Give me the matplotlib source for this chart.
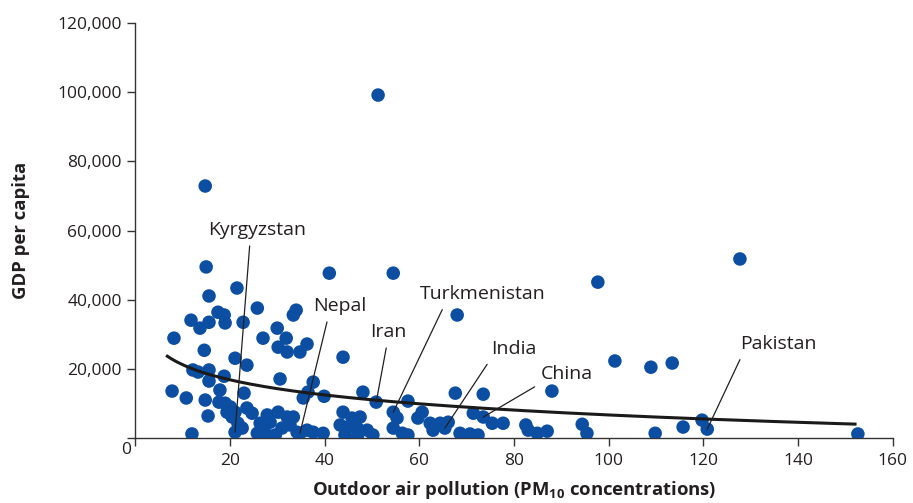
import numpy as np
import matplotlib
matplotlib.use('Agg')
import matplotlib.pyplot as plt
from matplotlib.ticker import FuncFormatter

plt.rcParams['font.family'] = ['Open Sans', 'DejaVu Sans']
plt.rcParams['mathtext.fontset'] = 'custom'
plt.rcParams['mathtext.rm'] = 'Open Sans'
plt.rcParams['mathtext.bf'] = 'Open Sans:bold'

# PM10 concentration vs GDP per capita, one point per country
pm10 = [51.3, 14.8, 127.7, 15.0, 41.0, 54.5, 97.7, 21.5, 15.6, 25.8,
        34.0, 33.4, 68.0, 17.5, 18.8, 19.0, 11.8, 15.6, 13.7, 22.8,
        30.0, 8.2, 27.0, 31.9, 30.2, 32.1, 36.3, 34.8, 14.6, 43.9,
        21.1, 23.6, 12.2, 13.3, 15.6, 18.8, 15.6, 30.6, 7.8, 17.9,
        23.0, 37.6, 36.5, 10.8, 14.8, 17.7, 19.0, 35.5, 39.9, 15.4,
        20.1, 23.6, 19.4, 21.1, 20.5, 24.7, 27.9, 30.2, 32.1, 33.4,
        21.7, 22.6, 26.4, 28.5, 31.0, 32.7, 27.0, 21.1, 12.0, 25.8,
        27.9, 29.6, 34.2, 36.3, 37.6, 39.7, 34.8, 43.9, 45.8, 47.5,
        43.3, 45.0, 46.9, 44.3, 49.0, 50.2, 46.9, 48.1, 50.9, 54.5,
        55.3, 54.5, 56.4, 57.6, 57.6, 60.6, 59.7, 62.3, 62.9, 64.4,
        66.1, 65.4, 67.6, 68.6, 70.7, 72.4, 73.5, 71.4, 73.5, 75.4,
        77.7, 82.5, 83.0, 84.9, 87.0, 88.0, 94.4, 95.4, 101.3, 108.9,
        113.4, 109.8, 115.7, 119.7, 120.8, 152.6]
gdp = [99200, 72900, 51800, 49500, 47700, 47700, 45100, 43400, 41100, 37600,
       37000, 35600, 35600, 36400, 35600, 33300, 34100, 33500, 31800, 33500,
       31800, 28900, 28900, 28900, 26300, 24900, 27200, 24900, 25400, 23400,
       23100, 21100, 19700, 19100, 19700, 17900, 16500, 17100, 13600, 13900,
       13000, 16200, 13300, 11600, 11000, 10400, 10100, 11600, 12100, 6400,
       9000, 8700, 7500, 7500, 6100, 7200, 6700, 7500, 6100, 6100,
       4300, 2900, 4300, 4600, 2900, 3800, 2900, 1700, 1200, 1400,
       900, 900, 1700, 2300, 1700, 1400, 1400, 7500, 5800, 6100,
       3800, 3200, 2900, 900, 2300, 900, 500, 13300, 10400, 7500,
       5800, 2900, 1400, 900, 10700, 7500, 5800, 4300, 2300, 4300,
       4600, 2900, 13000, 1400, 1200, 900, 12700, 7200, 6100, 4300,
       4300, 3800, 2300, 1400, 2000, 13600, 4000, 1400, 22300, 20500,
       21700, 1400, 3200, 5200, 2600, 1200]

# logarithmic trendline (y = a + b ln x) as drawn in the source chart
trend_a = 35800
trend_b = -6320
trend_range = [6.8, 152.0]

countries = ['Kyrgyzstan', 'Nepal', 'Iran', 'Turkmenistan', 'India', 'China', 'Pakistan']
country_pm10 = [21.1, 34.8, 50.9, 54.5, 65.4, 73.5, 120.8]
country_gdp = [1700, 1400, 10400, 7500, 2900, 6100, 2600]

# where the labels sit and where their leader lines leave the text
label_pos = [(15.4, 60150), (37.6, 38170), (49.6, 30650), (60.2, 41650),
             (75.2, 25740), (85.7, 18510), (127.7, 27180)]
line_rel = [0.43, 0.29, 0.48, 0.2, 0.0, 0.0, 0.04]

txt = '#231f20'
fig, ax = plt.subplots(figsize=(9.13, 5.03), dpi=100)
fig.subplots_adjust(left=0.148, right=0.978, bottom=0.129, top=0.954)

ax.scatter(pm10, gdp, s=95, color='#0b4ea2', edgecolors='none', zorder=3)

xs = np.linspace(trend_range[0], trend_range[1], 200)
ax.plot(xs, trend_a + trend_b * np.log(xs), color='#1a1a1a', lw=2.2, zorder=4)

for name, px, py, pos, rel in zip(countries, country_pm10, country_gdp, label_pos, line_rel):
    ax.annotate(name, xy=(px, py), xytext=pos, ha='left', va='center',
                fontsize=14, color=txt, zorder=5,
                arrowprops=dict(arrowstyle='-', color=txt, lw=0.9,
                                relpos=(rel, 0), shrinkA=3, shrinkB=0))

ax.set_xlim(0, 160)
ax.set_ylim(0, 120000)
ax.set_xticks(range(0, 161, 20))
ax.set_yticks(range(0, 120001, 20000))
ax.xaxis.set_major_formatter(FuncFormatter(lambda v, p: '' if v == 0 else f'{int(v)}'))
ax.yaxis.set_major_formatter(FuncFormatter(lambda v, p: '' if v == 0 else f'{int(v):,}'))
ax.annotate('0', xy=(0, 0), xytext=(-3, -3), textcoords='offset points',
            ha='right', va='top', fontsize=12.5, color=txt)

for s in ['top', 'right']:
    ax.spines[s].set_visible(False)
for s in ['left', 'bottom']:
    ax.spines[s].set_color('#333333')
    ax.spines[s].set_linewidth(1.0)
ax.tick_params(colors='#333333', labelcolor=txt, labelsize=12.5, length=6, width=1.0)
ax.tick_params(axis='x', pad=5)

ax.set_ylabel('GDP per capita', fontsize=13.3, fontweight='bold', color=txt, labelpad=20)
ax.set_xlabel(r'Outdoor air pollution (PM$_{\mathbf{10}}$ concentrations)',
              fontsize=13.3, fontweight='bold', color=txt, labelpad=7)

fig.savefig('out.png', dpi=100)
